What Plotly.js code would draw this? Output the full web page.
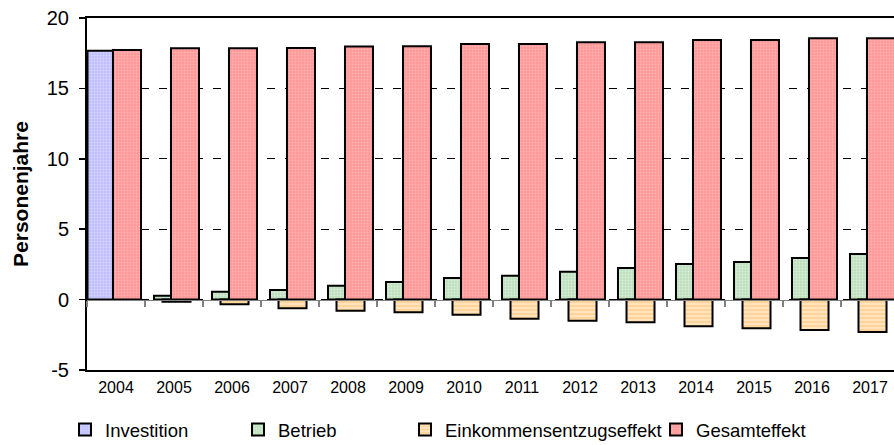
<!DOCTYPE html>
<html>
<head>
<meta charset="utf-8">
<script src="https://cdn.plot.ly/plotly-3.0.1.min.js"></script>
<style>html,body{margin:0;padding:0;background:#fff;}#chart{width:894px;height:445px;}</style>
</head>
<body>
<div id="chart"></div>
<script>
const years = ['2004','2005','2006','2007','2008','2009','2010','2011','2012','2013','2014','2015','2016','2017'];
const investition = [17.68, null, null, null, null, null, null, null, null, null, null, null, null, null];
const betrieb = [null, 0.28, 0.56, 0.68, 0.99, 1.25, 1.53, 1.70, 1.98, 2.25, 2.53, 2.67, 2.95, 3.24];
const einkommen = [null, -0.15, -0.33, -0.62, -0.79, -0.90, -1.07, -1.36, -1.50, -1.61, -1.90, -2.04, -2.16, -2.30];
const gesamt = [17.73, 17.85, 17.85, 17.87, 17.98, 18.0, 18.15, 18.15, 18.27, 18.27, 18.44, 18.44, 18.56, 18.56];
const seriesNames = ['Investition', 'Betrieb', 'Einkommensentzugseffekt', 'Gesamteffekt'];

const FONT = 'Liberation Sans, Arial, sans-serif';
const W = 0.483;
const line = {color: '#000', width: 2};

function bar(name, y, color, offset, legendId, pattern) {
  const m = {color: color, line: line};
  if (pattern) m.pattern = pattern;
  return {type: 'bar', name: name, x: years, y: y, width: W, offset: offset,
          marker: m, legend: legendId, hoverinfo: 'x+y+name'};
}

const traces = [
  bar(seriesNames[0], investition, '#c4c4ff', -0.491, 'legend',
      {shape: '.', bgcolor: '#c0c0ff', fgcolor: '#d8d8ff', size: 3, solidity: 0.3, fillmode: 'replace'}),
  bar(seriesNames[1], betrieb, '#c6e4c6', -0.345, 'legend2',
      {shape: '.', bgcolor: '#bfe0bf', fgcolor: '#dcefdc', size: 3, solidity: 0.3, fillmode: 'replace'}),
  bar(seriesNames[2], einkommen, '#ffd8a0', -0.198, 'legend3',
      {shape: '-', bgcolor: '#ffd498', fgcolor: '#ffecd0', size: 4, solidity: 0.35, fillmode: 'replace'}),
  bar(seriesNames[3], gesamt, '#ff9a9a', -0.052, 'legend4',
      {shape: '.', bgcolor: '#ff9898', fgcolor: '#ffb4b4', size: 3, solidity: 0.3, fillmode: 'replace'}),
  {type: 'scatter', mode: 'markers', x: years, y: years.map(() => null), xaxis: 'x2',
   showlegend: false, hoverinfo: 'skip'}
];

const xr = [-0.5, 13.414];
const legFont = {family: FONT, size: 18.5, color: '#000'};
function leg(px) {
  return {orientation: 'h', x: (px - 87) / 807, xanchor: 'left', y: -0.1705, yanchor: 'middle',
          bgcolor: 'rgba(0,0,0,0)', font: legFont, itemwidth: 30, borderwidth: 0};
}

const layout = {
  width: 894, height: 445,
  margin: {l: 87, r: 0, t: 18, b: 75, pad: 0, autoexpand: false},
  paper_bgcolor: '#fff', plot_bgcolor: '#fff',
  barmode: 'overlay',
  font: {family: FONT, color: '#000'},
  showlegend: true,
  legend: leg(104 - 39),
  legend2: leg(277 - 39),
  legend3: leg(444 - 39),
  legend4: leg(695 - 39),
  xaxis: {
    type: 'category', categoryorder: 'array', categoryarray: years,
    range: xr, showgrid: false, zeroline: false,
    showline: true, mirror: true, linecolor: '#000', linewidth: 2,
    ticks: '', ticklabelstandoff: 2, tickfont: {family: FONT, size: 16, color: '#000'}
  },
  xaxis2: {
    type: 'category', categoryorder: 'array', categoryarray: years,
    range: xr, overlaying: 'x', anchor: 'free', position: 0.2,
    showgrid: false, zeroline: false, showline: true, linecolor: '#808080', linewidth: 1.5,
    ticks: 'outside', tickson: 'boundaries', ticklen: 6, tickcolor: '#808080', tickwidth: 1.5,
    showticklabels: false
  },
  yaxis: {
    range: [-5, 20], tickvals: [-5, 0, 5, 10, 15, 20], ticktext: ['-5','0','5','10','15','20'],
    showgrid: true, gridcolor: '#000', gridwidth: 1, griddash: '8px,10px',
    zeroline: false, showline: true, linecolor: '#000', linewidth: 2,
    ticks: 'outside', ticklen: 6, tickcolor: '#000', tickwidth: 1.5,
    ticklabelstandoff: 6,
    tickfont: {family: FONT, size: 20, color: '#000'},
    title: {text: 'Personenjahre', font: {family: FONT, size: 21, color: '#000', weight: 'bold'}, standoff: 12}
  }
};

Plotly.newPlot('chart', traces, layout, {displayModeBar: false, staticPlot: true});
</script>
</body>
</html>
